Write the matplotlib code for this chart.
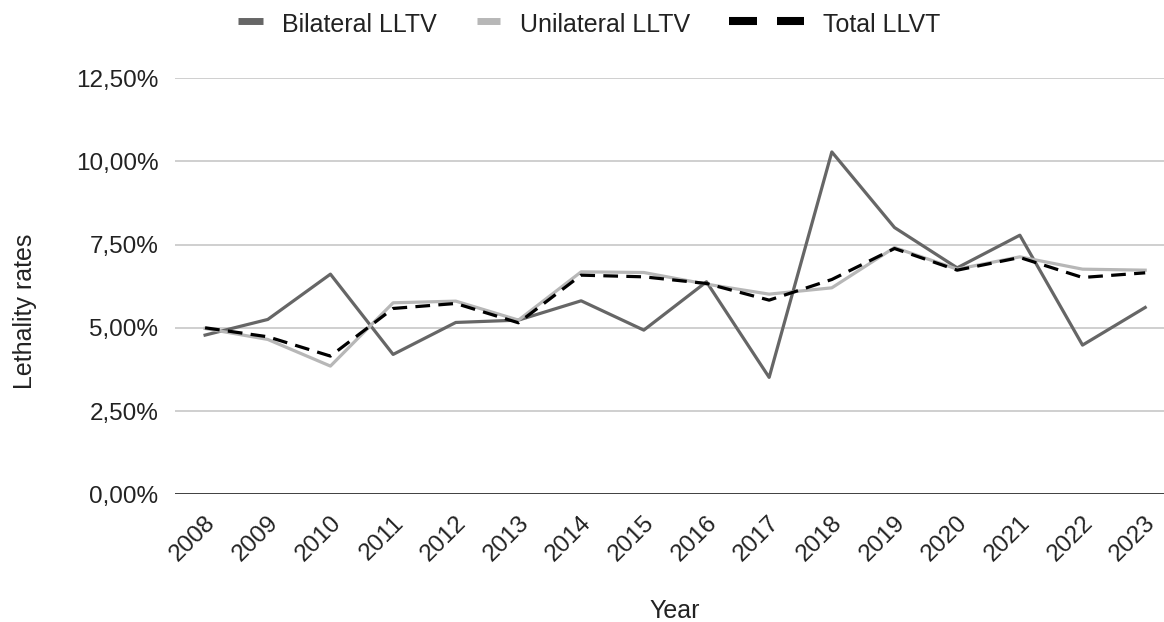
import matplotlib.pyplot as plt
from matplotlib.lines import Line2D
from matplotlib.ticker import FuncFormatter
from matplotlib.transforms import ScaledTranslation

plt.rcParams['font.family'] = ['Liberation Sans', 'DejaVu Sans']

years = [str(y) for y in range(2008, 2024)]
bilateral = [4.78, 5.25, 6.61, 4.20, 5.16, 5.23, 5.81, 4.93,
             6.38, 3.51, 10.28, 8.01, 6.80, 7.78, 4.48, 5.61]
unilateral = [4.98, 4.65, 3.85, 5.75, 5.80, 5.23, 6.68, 6.66,
              6.31, 6.01, 6.20, 7.41, 6.76, 7.13, 6.76, 6.73]
total = [5.00, 4.73, 4.15, 5.58, 5.73, 5.15, 6.58, 6.53,
         6.33, 5.83, 6.45, 7.38, 6.73, 7.11, 6.51, 6.65]

c_bi = '#666666'
c_uni = '#b7b7b7'
c_tot = '#000000'
txt = '#222222'

W, H = 1164, 622
fig = plt.figure(figsize=(W / 100, H / 100), dpi=100)
ax = fig.add_axes([175 / W, 1 - 494.3 / H, 1 - 175 / W, (494.3 - 78) / H])

x = list(range(len(years)))
ax.plot(x, bilateral, color=c_bi, lw=2.3, zorder=3)
ax.plot(x, unilateral, color=c_uni, lw=2.3, zorder=3)
ax.plot(x, total, color=c_tot, lw=2.3, dashes=(4.6, 2.6), zorder=4)

ax.set_xlim(-0.48, 15.30)
ax.set_ylim(0, 12.5)
ax.set_yticks([0, 2.5, 5, 7.5, 10, 12.5])
ax.yaxis.set_major_formatter(FuncFormatter(lambda v, p: f'{v:.2f}%'.replace('.', ',')))
ax.grid(axis='y', color='#cccccc', lw=1.3)
ax.set_axisbelow(True)
ax.axhline(0, color='#333333', lw=2, zorder=2)
for s in ax.spines.values():
    s.set_visible(False)
ax.tick_params(length=0, labelsize=17.5, labelcolor=txt)
ax.tick_params(axis='y', pad=12)
ax.set_xticks(x)
ax.set_xticklabels(years, rotation=45, ha='right', va='center', rotation_mode='anchor')
ax.tick_params(axis='x', pad=18)
shift = ScaledTranslation(7 / 100, 0, fig.dpi_scale_trans)
for lab in ax.get_xticklabels():
    lab.set_transform(lab.get_transform() + shift)

# axis titles
fig.text(675 / W, 1 - 611 / H, 'Year', fontsize=18, color=txt, ha='center', va='center')
fig.text(25 / W, 1 - 311 / H, 'Lethality rates', fontsize=18, color=txt,
         ha='center', va='center', rotation=90)


# legend drawn by hand so each key has its own size
def px(xp, yp):
    return xp / W, 1 - yp / H


def key(x0, x1, color, lw):
    (a, b), (c, d) = px(x0, 20.5), px(x1, 20.5)
    fig.add_artist(Line2D([a, c], [b, d], color=color, lw=lw,
                          solid_capstyle='butt', transform=fig.transFigure))


key(238, 263, c_bi, 5)
key(477, 500, c_uni, 5)
key(729, 757, c_tot, 5.8)
key(777, 804, c_tot, 5.8)
for xp, label in [(282, 'Bilateral LLTV'), (520, 'Unilateral LLTV'), (823, 'Total LLVT')]:
    fx, fy = px(xp, 31.5)
    fig.text(fx, fy, label, fontsize=18, color=txt, ha='left', va='baseline')

fig.savefig('out.png', dpi=100)
